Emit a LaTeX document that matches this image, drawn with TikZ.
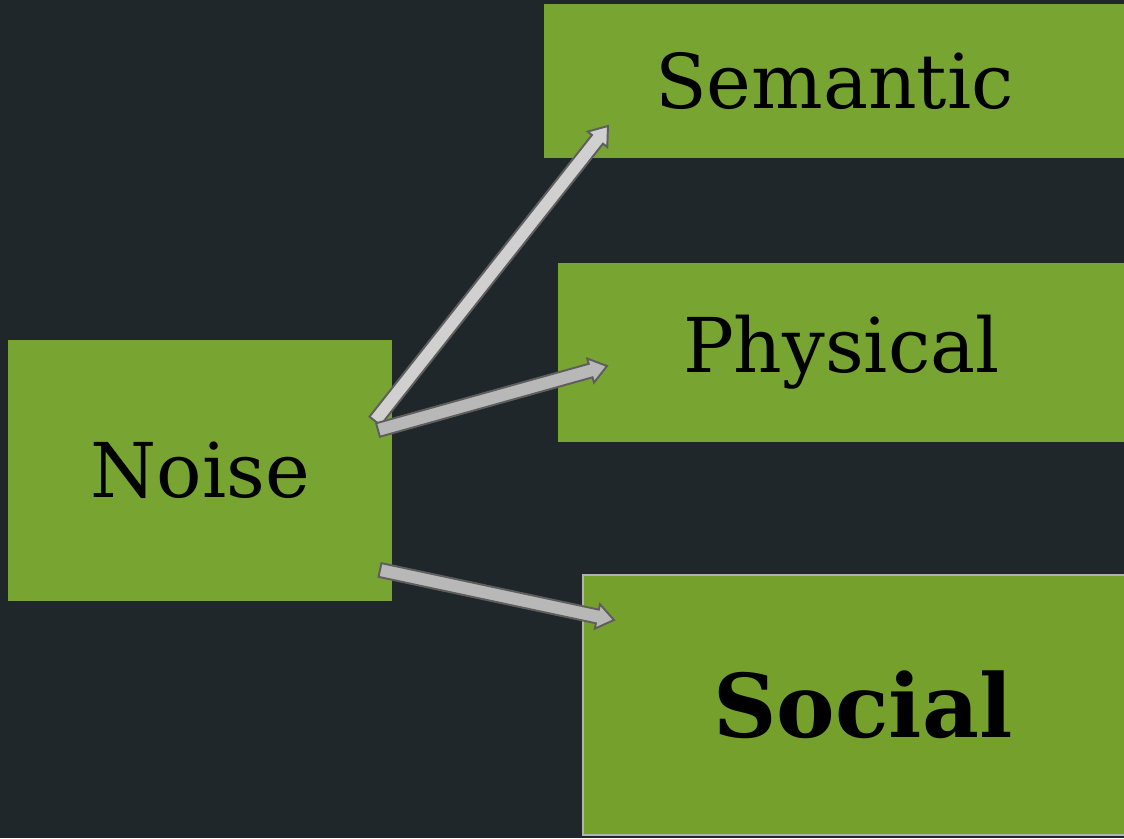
\documentclass[tikz,border=0pt]{standalone}
\usepackage{fontspec}
\setmainfont{DejaVu Serif}
\usetikzlibrary{calc}

\definecolor{bgdark}{HTML}{20272A}
\definecolor{leafgreen}{HTML}{78A431}
\definecolor{socialgreen}{HTML}{76A02C}
\definecolor{arrowedge}{HTML}{5E5E5E}
\definecolor{arrowlight}{HTML}{D0D0D0}
\definecolor{arrowmid}{HTML}{B8B8B8}

\tikzset{
  box/.style={fill=leafgreen, inner sep=0pt, text=black, font=\fontsize{43}{50}\selectfont},
  arrowline/.style={draw=arrowedge, line width=1.1pt, line join=miter}
}

% block arrow from #1 to #2, filled with #3
\newcommand{\blockarrow}[3]{%
  \coordinate (neck) at ($(#2)!0.34cm!(#1)$);
  \filldraw[arrowline, fill=#3]
    ($(#1)!0.14cm!90:(#2)$) -- ($(neck)!0.14cm!90:(#2)$)
    -- ($(neck)!0.25cm!90:(#2)$) -- (#2)
    -- ($(neck)!0.25cm!-90:(#2)$) -- ($(neck)!0.14cm!-90:(#2)$)
    -- ($(#1)!0.14cm!-90:(#2)$) -- cycle;
}

\begin{document}
\begin{tikzpicture}
\fill[bgdark] (0,0) rectangle (22.48,16.76);
\useasboundingbox (0,0) rectangle (22.48,16.76);

\begin{scope}
\clip (0,0) rectangle (22.48,16.76);
\node[box, minimum width=11.6cm, minimum height=3.08cm, anchor=south west] (semantic) at (10.88,13.6) {Semantic};
\node[box, minimum width=11.32cm, minimum height=3.58cm, anchor=south west] (physical) at (11.16,7.92) {Physical};
\node[box, minimum width=7.68cm, minimum height=5.22cm, anchor=south west] (noise) at (0.16,4.74) {Noise};
\node[box, fill=socialgreen, draw=black!30, line width=1pt, minimum width=11.2cm, minimum height=5.2cm, anchor=south west,
      font=\fontsize{50}{58}\selectfont\bfseries] (social) at (11.64,0.04) {Social};
\end{scope}

%-------------------------------------
\coordinate (tailA) at (7.50,8.34);
\coordinate (tipA) at (12.16,14.24);
\coordinate (tailB) at (7.56,8.16);
\coordinate (tipB) at (12.14,9.44);
\coordinate (tailC) at (7.60,5.36);
\coordinate (tipC) at (12.28,4.36);

\blockarrow{tailA}{tipA}{arrowlight}
\blockarrow{tailB}{tipB}{arrowmid}
\blockarrow{tailC}{tipC}{arrowmid}
\end{tikzpicture}
\end{document}
